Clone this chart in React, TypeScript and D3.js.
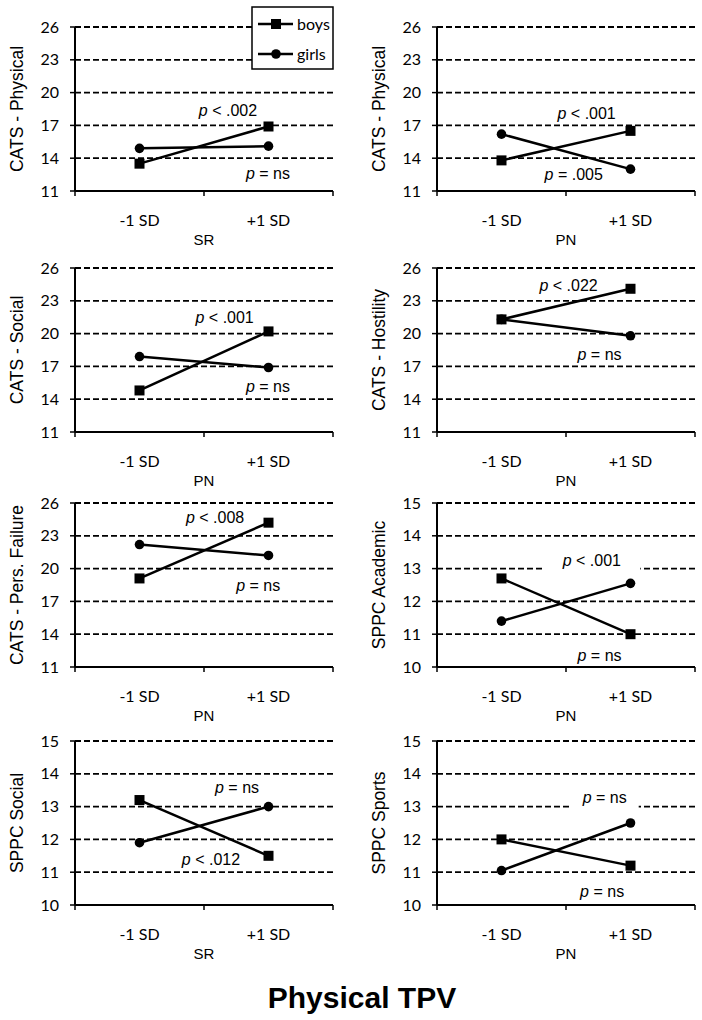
import React from "react";
import * as d3 from "d3";

const xCategories = ["-1 SD", "+1 SD"];
const yTitles = ["CATS - Physical", "CATS - Physical", "CATS - Social", "CATS - Hostility", "CATS - Pers. Failure", "SPPC Academic", "SPPC Social", "SPPC Sports"];
const xTitles = ["SR", "PN", "PN", "PN", "PN", "PN", "SR", "PN"];
const catsTicks = [11, 14, 17, 20, 23, 26];
const sppcTicks = [10, 11, 12, 13, 14, 15];
const panelTicks = [catsTicks, catsTicks, catsTicks, catsTicks, catsTicks, sppcTicks, sppcTicks, sppcTicks];
const boys = [[13.5, 16.9], [13.8, 16.5], [14.8, 20.2], [21.3, 24.1], [19.1, 24.2], [12.7, 11.0], [13.2, 11.5], [12.0, 11.2]];
const girls = [[14.9, 15.1], [16.2, 13.0], [17.9, 16.9], [21.3, 19.8], [22.2, 21.2], [11.4, 12.55], [11.9, 13.0], [11.05, 12.5]];
// annotation: [panel, text after p, x fraction of plot, y value, background box width]
const annotations: [number, string, number, number, number][] = [
  [0, " < .002", 0.593, 18.4, 0],
  [0, " = ns", 0.748, 12.6, 0],
  [1, " < .001", 0.58, 18.1, 0],
  [1, " = .005", 0.53, 12.5, 0],
  [2, " < .001", 0.58, 21.5, 0],
  [2, " = ns", 0.748, 15.2, 0],
  [3, " < .022", 0.51, 24.45, 0],
  [3, " = ns", 0.63, 18.1, 0],
  [4, " < .008", 0.543, 24.7, 0],
  [4, " = ns", 0.71, 18.5, 0],
  [5, " < .001", 0.6, 13.25, 97],
  [5, " = ns", 0.63, 10.35, 0],
  [6, " = ns", 0.628, 13.6, 0],
  [6, " < .012", 0.527, 11.4, 0],
  [7, " = ns", 0.65, 13.28, 68],
  [7, " = ns", 0.64, 10.4, 0],
];
const seriesNames = ["boys", "girls"];
const mainTitle = "Physical TPV";

const rowTops = [27, 268, 503, 741];
const colLefts = [75, 437];
const plotW = 258;
const plotH = 164;
const arial = "'Liberation Sans', Arial, sans-serif";
const tickFont = "Lato, 'Liberation Sans', sans-serif";

function Marker({ kind, x, y }: { kind: string; x: number; y: number }) {
  if (kind === "boys") return <rect x={x - 5} y={y - 5} width={10} height={10} fill="#000" />;
  return <circle cx={x} cy={y} r={4.8} fill="#000" />;
}

function Panel({ i }: { i: number }) {
  const row = Math.floor(i / 2);
  const col = i % 2;
  const left = colLefts[col];
  const top = rowTops[row];
  const bottom = top + plotH;
  const right = left + plotW;
  const ticks = panelTicks[i];
  const x = d3.scaleBand<string>().domain(xCategories).range([left, right]);
  const cx = (c: string) => (x(c) as number) + x.bandwidth() / 2;
  const y = d3.scaleLinear().domain([ticks[0], ticks[ticks.length - 1]]).range([bottom, top]);
  const line = d3.line<number>().x((_, k) => cx(xCategories[k])).y((v) => y(v));
  const bounds = [left, left + x.bandwidth(), right];
  const series = [boys[i], girls[i]];
  return (
    <g>
      {ticks.slice(1).map((t) => (
        <line key={"g" + t} x1={left} x2={right} y1={y(t)} y2={y(t)} stroke="#000" strokeWidth={1.8} strokeDasharray="6,3" />
      ))}
      {annotations.filter((a) => a[0] === i && a[4] > 0).map((a, k) => (
        <rect key={"bg" + k} x={left + a[2] * plotW - a[4] / 2} y={y(a[3]) - 9} width={a[4]} height={22} fill="#fff" />
      ))}
      <line x1={left} x2={left} y1={top} y2={bottom} stroke="#000" strokeWidth={2} />
      <line x1={left} x2={right} y1={bottom} y2={bottom} stroke="#000" strokeWidth={2} />
      {ticks.map((t) => (
        <g key={"t" + t}>
          <line x1={left - 5} x2={left} y1={y(t)} y2={y(t)} stroke="#000" strokeWidth={1.5} />
          <text x={left - 16} y={y(t)} dy="0.35em" textAnchor="end" fontFamily={tickFont} fontSize={16}>{t}</text>
        </g>
      ))}
      {bounds.map((b, k) => (
        <line key={"xb" + k} x1={b} x2={b} y1={bottom} y2={bottom + 5} stroke="#000" strokeWidth={1.5} />
      ))}
      {xCategories.map((c) => (
        <text key={c} x={cx(c)} y={bottom + 35} textAnchor="middle" fontFamily={tickFont} fontSize={16}>{c}</text>
      ))}
      <text x={(left + right) / 2} y={bottom + 54} textAnchor="middle" fontFamily={arial} fontSize={15}>{xTitles[i]}</text>
      <text transform={`translate(${left - 58},${(top + bottom) / 2}) rotate(-90)`} textAnchor="middle" dy="0.35em" fontFamily={arial} fontSize={17.5}>{yTitles[i]}</text>
      {series.map((s, k) => (
        <g key={"s" + k}>
          <path d={line(s) as string} fill="none" stroke="#000" strokeWidth={2.5} />
          {s.map((v, j) => (
            <Marker key={j} kind={seriesNames[k]} x={cx(xCategories[j])} y={y(v)} />
          ))}
        </g>
      ))}
      {annotations.filter((a) => a[0] === i).map((a, k) => (
        <text key={"a" + k} x={left + a[2] * plotW} y={y(a[3])} dy="0.35em" textAnchor="middle" fontFamily={arial} fontSize={16}>
          <tspan fontStyle="italic">p</tspan>{a[1]}
        </text>
      ))}
    </g>
  );
}

export default function App() {
  const legendX = 252;
  const legendY = 7;
  return (
    <svg width={702} height={1020} style={{ position: "absolute", left: 0, top: 0, background: "#fff" }}>
      <rect width={702} height={1020} fill="#fff" />
      {yTitles.map((_, i) => <Panel key={i} i={i} />)}
      <g>
        <rect x={legendX} y={legendY} width={81} height={62} fill="#fff" stroke="#000" strokeWidth={1.5} />
        {seriesNames.map((n, k) => {
          const ly = legendY + 17 + k * 30;
          return (
            <g key={n}>
              <line x1={legendX + 6} x2={legendX + 41} y1={ly} y2={ly} stroke="#000" strokeWidth={2.5} />
              <Marker kind={n} x={legendX + 24} y={ly} />
              <text x={legendX + 45} y={ly} dy="0.35em" fontFamily={tickFont} fontSize={16}>{n}</text>
            </g>
          );
        })}
      </g>
      <text x={362} y={1008} textAnchor="middle" fontFamily={arial} fontWeight="bold" fontSize={30}>{mainTitle}</text>
    </svg>
  );
}
